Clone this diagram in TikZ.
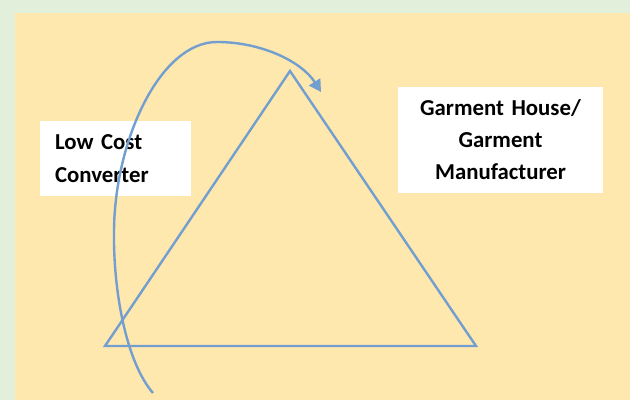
\documentclass[tikz,border=0pt]{standalone}
\usepackage{fontspec}
\newfontfamily\boxfont{Carlito}
\usetikzlibrary{arrows.meta,positioning}
\definecolor{frame}{HTML}{E2EFDA}
\definecolor{paper}{HTML}{FFE8AD}
\definecolor{line}{HTML}{729FCF}

\tikzset{
  label box/.style={fill=white, font=\boxfont\bfseries\fontsize{11.4}{16.5}\selectfont},
  edge/.style={line, line width=1.2pt},
}

\begin{document}
\begin{tikzpicture}[x=0.5pt,y=-0.5pt]
  \useasboundingbox (0,0) rectangle (630,400);
  \fill[frame] (0,0) rectangle (630,400);
  \fill[paper] (15,13) rectangle (630,400);

  % boxes
  \node[label box, align=left, text width=60.5pt, inner xsep=7.5pt,
        minimum height=37.5pt] (lowcost) at (115.5,158.5) {Low Cost\\Converter};
  \node[label box, align=center, text width=92.5pt, inner xsep=5pt,
        minimum height=53pt, font=\boxfont\bfseries\fontsize{11.4}{16}\selectfont]
        (garment) at (500.5,140) {Garment House/\\Garment\\Manufacturer};

  % triangle
  \coordinate (apex) at (290,71);
  \coordinate (lcorner) at (105,346);
  \coordinate (rcorner) at (476,346);
  \draw[edge] (apex) -- (lcorner) -- (rcorner) -- cycle;

  % curved arrow
  \coordinate (start) at (153,393);
  \coordinate (side) at (114,230);
  \coordinate (peak) at (217,42);
  \coordinate (finish) at (321,92);
  \draw[edge, -{Triangle[length=6pt,width=6.5pt]}] (start)
    .. controls (126,362) and (113,290) .. (side)
    .. controls (115,140) and (160,42) .. (peak)
    .. controls (262,42) and (302,62) .. (finish);
\end{tikzpicture}
\end{document}
